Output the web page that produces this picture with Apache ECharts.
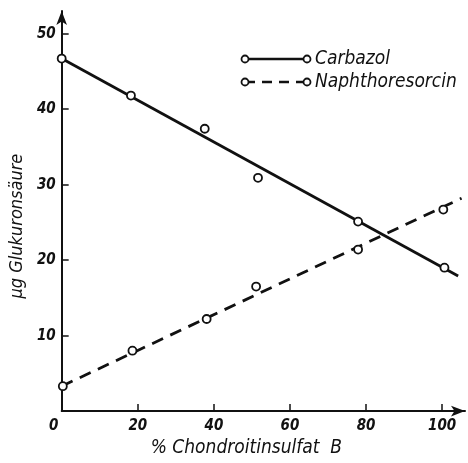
<!DOCTYPE html>
<html>
<head>
<meta charset="utf-8">
<script src="https://cdn.jsdelivr.net/npm/echarts@6/dist/echarts.min.js"></script>
<style>
  html, body { margin: 0; padding: 0; background: #fff; }
  #chart { width: 468px; height: 463px; }
</style>
</head>
<body>
<div id="chart"></div>
<script>
// Messpunkte
const carbazolX = [0, 18.2, 37.6, 51.6, 77.9, 100.6]
const carbazolY = [46.7, 41.8, 37.4, 30.9, 25.1, 19.0]
const naphthoX = [0.3, 18.6, 38.1, 51.1, 77.9, 100.3]
const naphthoY = [3.3, 8.0, 12.2, 16.5, 21.4, 26.7]

// Ausgleichsgeraden (Anfang, Ende)
const carbazolFitX = [0, 104.2]
const carbazolFitY = [46.7, 17.9]
const naphthoFitX = [0, 105.1]
const naphthoFitY = [3.3, 28.2]

const seriesNames = ['Carbazol', 'Naphthoresorcin']
const xAxisTitle = '% Chondroitinsulfat  B'
const yAxisTitle = 'µg Glukuronsäure'

const zip = (xs, ys) => xs.map((x, i) => [x, ys[i]])

const font = 'DejaVu Sans Condensed'
const ink = '#111'

const chart = echarts.init(document.getElementById('chart'))

const pointStyle = {
  type: 'scatter',
  symbol: 'circle',
  symbolSize: 8,
  itemStyle: { color: '#fff', borderColor: ink, borderWidth: 1.8, opacity: 1 },
  z: 5
}

// Legende als Grafik: o———o Text
const legendRow = (y, dashed, label) => ({
  type: 'group',
  children: [
    { type: 'line', shape: { x1: 245, y1: y, x2: 307, y2: y },
      style: { stroke: ink, lineWidth: 2.4, lineDash: dashed ? [10, 7] : null } },
    { type: 'circle', shape: { cx: 245, cy: y, r: 3.5 }, style: { fill: '#fff', stroke: ink, lineWidth: 1.8 }, z: 2 },
    { type: 'circle', shape: { cx: 307, cy: y, r: 3.5 }, style: { fill: '#fff', stroke: ink, lineWidth: 1.8 }, z: 2 },
    { type: 'text', x: 315, y: y, style: { text: label, fill: ink, font: 'italic 19px "' + font + '"', verticalAlign: 'middle' } }
  ]
})

const option = {
  animation: false,
  backgroundColor: '#fff',
  grid: { left: 58, right: 3, top: 11, bottom: 49 },
  xAxis: {
    type: 'value',
    min: 0,
    max: 106,
    interval: 20,
    name: xAxisTitle,
    nameLocation: 'middle',
    nameGap: 27,
    nameTextStyle: { fontFamily: font, fontStyle: 'italic', fontSize: 19, color: ink, padding: [0, 34, 0, 0] },
    axisLine: { lineStyle: { color: ink, width: 2 }, symbol: ['none', 'arrow'], symbolSize: [8, 14] },
    axisTick: { inside: true, length: 7, lineStyle: { color: ink, width: 1.5 } },
    axisLabel: {
      showMaxLabel: false, fontFamily: font, fontStyle: 'italic', fontWeight: 'bold', fontSize: 15, color: ink, margin: 8,
      formatter: v => v === 0 ? '{z|0}' : String(v),
      rich: { z: { fontFamily: font, fontStyle: 'italic', fontWeight: 'bold', fontSize: 15, color: ink, padding: [0, 16, 0, 0] } }
    },
    splitLine: { show: false }
  },
  yAxis: {
    type: 'value',
    min: 0,
    max: 53,
    interval: 10,
    name: yAxisTitle,
    nameLocation: 'middle',
    nameRotate: 90,
    nameGap: 32,
    nameTextStyle: { fontFamily: font, fontStyle: 'italic', fontSize: 18, color: ink, padding: [0, 30, 0, 0] },
    axisLine: { lineStyle: { color: ink, width: 2 }, symbol: ['none', 'arrow'], symbolSize: [8, 14] },
    axisTick: { inside: true, length: 7, lineStyle: { color: ink, width: 1.5 } },
    axisLabel: { showMinLabel: false, showMaxLabel: false, fontFamily: font, fontStyle: 'italic', fontWeight: 'bold', fontSize: 15, color: ink, margin: 6 },
    splitLine: { show: false }
  },
  graphic: [legendRow(59, false, seriesNames[0]), legendRow(82, true, seriesNames[1])],
  series: [
    {
      name: seriesNames[0] + ' Gerade',
      type: 'line',
      data: zip(carbazolFitX, carbazolFitY),
      showSymbol: false,
      lineStyle: { color: ink, width: 2.8 }
    },
    {
      name: seriesNames[1] + ' Gerade',
      type: 'line',
      data: zip(naphthoFitX, naphthoFitY),
      showSymbol: false,
      lineStyle: { color: ink, width: 2.8, type: [12, 8] }
    },
    Object.assign({ name: seriesNames[0], data: zip(carbazolX, carbazolY) }, pointStyle),
    Object.assign({ name: seriesNames[1], data: zip(naphthoX, naphthoY) }, pointStyle)
  ]
}

chart.setOption(option)
</script>
</body>
</html>
